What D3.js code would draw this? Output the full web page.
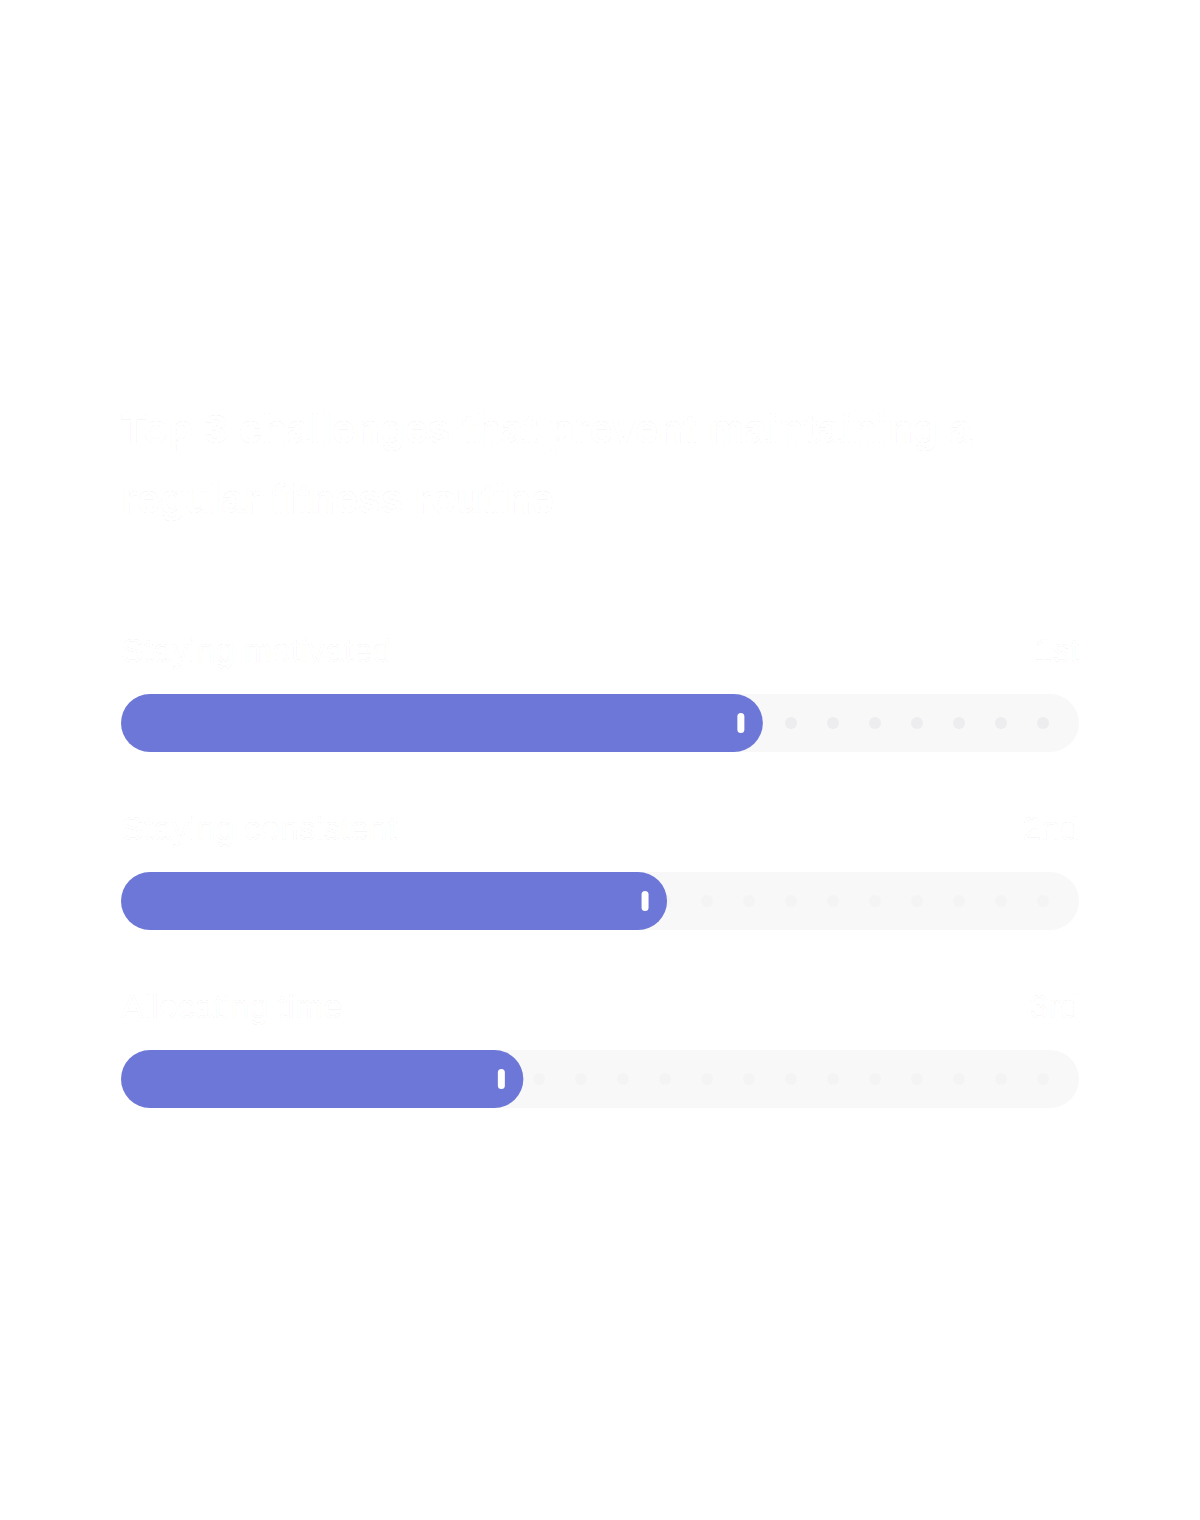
<!DOCTYPE html>
<html>
<head>
<meta charset="utf-8">
<script src="https://cdn.jsdelivr.net/npm/d3@7"></script>
<style>
  html, body { margin: 0; padding: 0; background: #ffffff; }
  svg { display: block; }
</style>
</head>
<body>
<svg id="chart" width="1200" height="1520"></svg>
<script>
const titleLines = ["Top 3 challenges that prevent maintaining a", "regular fitness routine"];
const categories = ["Staying motivated", "Staying consistent", "Allocating time"];
const values = [67, 57, 42];
const ranks = ["1st", "2nd", "3rd"];

const svg = d3.select("#chart");
const left = 121, right = 1079;
const x = d3.scaleLinear().domain([0, 100]).range([left, right]);
const rowY = d3.scalePoint().domain(categories).range([723, 1079]);
const barH = 58;

const textStyle = sel => sel
  .attr("fill", "#ffffff")
  .attr("stroke", "rgba(0,0,0,0.045)")
  .attr("stroke-width", 0.8);

// Title
svg.append("g").selectAll("text").data(titleLines).join("text")
  .attr("x", left)
  .attr("y", (d, i) => 443 + i * 70)
  .attr("font-family", "'Liberation Sans', Arial, sans-serif")
  .attr("font-size", 41)
  .attr("font-weight", 700)
  .text(d => d)
  .call(textStyle);

const rows = svg.append("g").selectAll("g").data(categories).join("g");

rows.append("text")
  .attr("x", left)
  .attr("y", d => rowY(d) - 61)
  .attr("font-family", "'Liberation Sans', Arial, sans-serif")
  .attr("font-size", 34)
  .text(d => d)
  .call(textStyle);

rows.append("text")
  .attr("x", right)
  .attr("y", d => rowY(d) - 61)
  .attr("text-anchor", "end")
  .attr("font-family", "'Liberation Sans', Arial, sans-serif")
  .attr("font-size", 34)
  .text((d, i) => ranks[i])
  .call(textStyle);

// track
rows.append("rect")
  .attr("x", x(0))
  .attr("y", d => rowY(d) - barH / 2)
  .attr("width", x(100) - x(0))
  .attr("height", barH)
  .attr("rx", barH / 2)
  .attr("fill", "#f8f8f8");

// dots
const dotStep = 42, dotOffset = 36;
const dotXs = d3.range(0, 23).map(k => right - dotOffset - k * dotStep).filter(v => v > left + 20);
rows.each(function(d, i) {
  d3.select(this).append("g").selectAll("circle").data(dotXs).join("circle")
    .attr("cx", v => v)
    .attr("cy", rowY(d))
    .attr("r", 6)
    .attr("fill", i === 0 ? "#ededf0" : "#f4f4f5");
});

// bar
rows.append("rect")
  .attr("x", x(0))
  .attr("y", d => rowY(d) - barH / 2)
  .attr("width", (d, i) => x(values[i]) - x(0))
  .attr("height", barH)
  .attr("rx", barH / 2)
  .attr("fill", "#6d77d7");

// handle
rows.append("rect")
  .attr("x", (d, i) => x(values[i]) - 22 - 3.5)
  .attr("y", d => rowY(d) - 10)
  .attr("width", 7)
  .attr("height", 20)
  .attr("rx", 3.5)
  .attr("fill", "#ffffff");
</script>
</body>
</html>
